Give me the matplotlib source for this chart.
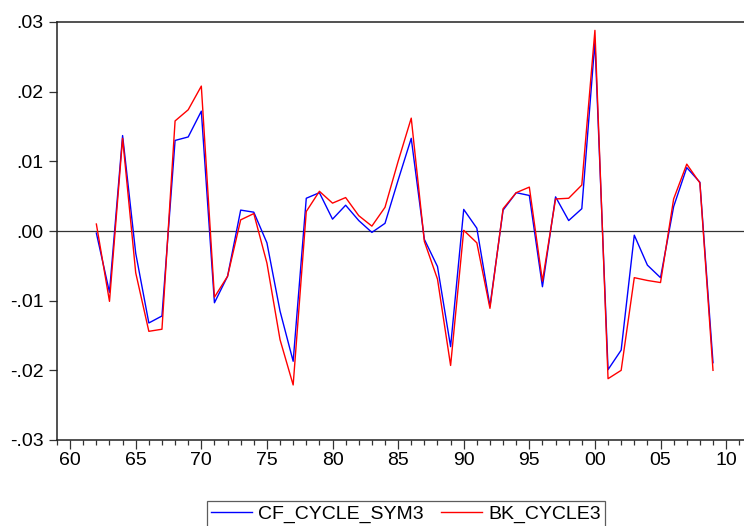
import matplotlib.pyplot as plt
from matplotlib.ticker import MultipleLocator, FixedLocator, FixedFormatter

plt.rcParams['font.family'] = ['Liberation Sans', 'DejaVu Sans']

years = list(range(1962, 2010))

cf_cycle_sym3 = [-0.0003, -0.0088, 0.0137, -0.0032, -0.0132, -0.0122, 0.0130, 0.0135,
                 0.0172, -0.0103, -0.0065, 0.0030, 0.0027, -0.0017, -0.0115, -0.0187,
                 0.0047, 0.0055, 0.0017, 0.0037, 0.0015, -0.0002, 0.0011, 0.0073,
                 0.0133, -0.0012, -0.0051, -0.0166, 0.0031, 0.0004, -0.0108, 0.0030,
                 0.0055, 0.0051, -0.0080, 0.0049, 0.0015, 0.0032, 0.0272, -0.0199,
                 -0.0171, -0.0006, -0.0049, -0.0067, 0.0035, 0.0091, 0.0070, -0.0189]

bk_cycle3 = [0.0010, -0.0101, 0.0133, -0.0060, -0.0144, -0.0141, 0.0158, 0.0174,
             0.0208, -0.0095, -0.0065, 0.0016, 0.0025, -0.0046, -0.0156, -0.0221,
             0.0028, 0.0057, 0.0040, 0.0048, 0.0022, 0.0007, 0.0034, 0.0100,
             0.0162, -0.0015, -0.0069, -0.0193, 0.0001, -0.0017, -0.0111, 0.0032,
             0.0055, 0.0063, -0.0072, 0.0046, 0.0047, 0.0066, 0.0288, -0.0212,
             -0.0200, -0.0067, -0.0071, -0.0074, 0.0046, 0.0096, 0.0069, -0.0200]

year_ticks = list(range(1960, 2011, 5))
year_labels = ["60", "65", "70", "75", "80", "85", "90", "95", "00", "05", "10"]
y_ticks = [-0.03, -0.02, -0.01, 0.0, 0.01, 0.02, 0.03]
y_labels = ["-.03", "-.02", "-.01", ".00", ".01", ".02", ".03"]

W, H = 744, 526
fig = plt.figure(figsize=(W / 100, H / 100), dpi=100)
left, right, top, bottom = 57, 748, 22, 440
ax = fig.add_axes([left / W, 1 - bottom / H, (right - left) / W, (bottom - top) / H])

ax.axhline(0, color="#333333", lw=0.9, zorder=1)
l1, = ax.plot(years, cf_cycle_sym3, color="#0000ff", lw=1.0, label="CF_CYCLE_SYM3", zorder=2)
l2, = ax.plot(years, bk_cycle3, color="#ff0000", lw=1.0, label="BK_CYCLE3", zorder=3)

ax.set_xlim(1959, 1959 + (right - left) / 13.12)
ax.set_ylim(-0.03, 0.03)

ax.xaxis.set_major_locator(FixedLocator(year_ticks))
ax.xaxis.set_major_formatter(FixedFormatter(year_labels))
ax.xaxis.set_minor_locator(MultipleLocator(1))
ax.yaxis.set_major_locator(FixedLocator(y_ticks))
ax.yaxis.set_major_formatter(FixedFormatter(y_labels))

ax.tick_params(axis="x", which="major", direction="out", length=6.5, width=0.9,
               color="#333333", labelsize=14, pad=2)
ax.tick_params(axis="x", which="minor", direction="out", length=3.6, width=0.9, color="#333333")
ax.tick_params(axis="y", which="major", direction="out", length=5.8, width=0.9,
               color="#333333", labelsize=14, pad=4)
ax.tick_params(top=False, right=False)

for side in ["left", "bottom", "top"]:
    ax.spines[side].set_color("#222222")
    ax.spines[side].set_linewidth(1.1)
ax.spines["right"].set_visible(False)

# legend box sits at the bottom and runs past the lower edge
leg = fig.legend(handles=[l1, l2], loc="upper center", ncol=2,
                 bbox_to_anchor=(406 / W, 1 - 501 / H), bbox_transform=fig.transFigure,
                 frameon=True, fancybox=False, fontsize=14, handlelength=2.1,
                 handletextpad=0.3, columnspacing=0.9, borderpad=0.22,
                 borderaxespad=0)
leg.get_frame().set_edgecolor("#333333")
leg.get_frame().set_linewidth(0.9)

fig.savefig("out.png", dpi=100)
